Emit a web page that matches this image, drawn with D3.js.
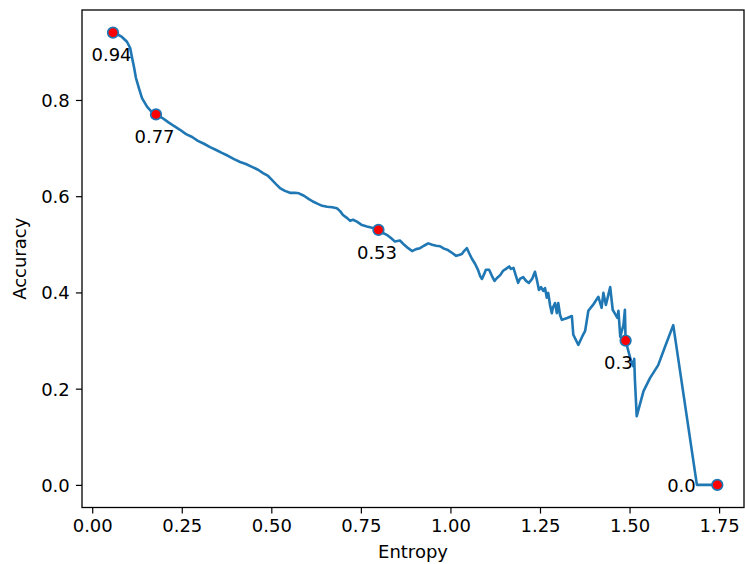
<!DOCTYPE html>
<html>
<head>
<meta charset="utf-8">
<script src="https://cdn.jsdelivr.net/npm/d3@7"></script>
<style>
  html, body { margin: 0; padding: 0; background: #fff; }
  svg text { font-family: "DejaVu Sans", sans-serif; fill: #000; }
</style>
</head>
<body>
<svg id="chart" width="745" height="564"></svg>
<script>
// Accuracy as a function of prediction entropy
const entropy = [
  0.058, 0.072, 0.083, 0.097, 0.106, 0.111, 0.117, 0.122, 0.131, 0.139,
  0.153, 0.164, 0.178, 0.195, 0.212, 0.228, 0.245, 0.262, 0.279, 0.295,
  0.312, 0.329, 0.346, 0.362, 0.379, 0.396, 0.413, 0.429, 0.446, 0.463,
  0.477, 0.491, 0.499, 0.513, 0.524, 0.538, 0.552, 0.566, 0.577, 0.591,
  0.605, 0.616, 0.630, 0.642, 0.656, 0.670, 0.683, 0.692, 0.700, 0.711,
  0.720, 0.728, 0.739, 0.753, 0.767, 0.778, 0.790, 0.799, 0.810, 0.824,
  0.834, 0.845, 0.859, 0.871, 0.882, 0.893, 0.904, 0.915, 0.926, 0.938,
  0.949, 0.960, 0.971, 0.982, 0.993, 1.005, 1.016, 1.024, 1.032, 1.038,
  1.046, 1.052, 1.060, 1.069, 1.077, 1.083, 1.088, 1.094, 1.099, 1.108,
  1.116, 1.123, 1.130, 1.139, 1.147, 1.155, 1.164, 1.169, 1.176, 1.183,
  1.189, 1.194, 1.203, 1.211, 1.219, 1.228, 1.236, 1.242, 1.247, 1.253,
  1.259, 1.264, 1.269, 1.273, 1.278, 1.283, 1.286, 1.292, 1.297, 1.301,
  1.306, 1.311, 1.326, 1.339, 1.343, 1.357, 1.367, 1.376, 1.385, 1.398,
  1.413, 1.422, 1.427, 1.434, 1.446, 1.453, 1.460, 1.466, 1.469, 1.474,
  1.483, 1.487, 1.489, 1.496, 1.504, 1.510, 1.513, 1.515, 1.520, 1.539,
  1.557, 1.580, 1.599, 1.622, 1.688, 1.745
];
const accuracy = [
  0.940, 0.936, 0.931, 0.921, 0.908, 0.889, 0.867, 0.846, 0.823, 0.804,
  0.786, 0.777, 0.770, 0.763, 0.754, 0.746, 0.738, 0.729, 0.723, 0.715,
  0.709, 0.702, 0.696, 0.690, 0.684, 0.677, 0.671, 0.667, 0.661, 0.655,
  0.648, 0.642, 0.636, 0.625, 0.617, 0.611, 0.607, 0.607, 0.606, 0.601,
  0.594, 0.589, 0.584, 0.580, 0.578, 0.577, 0.575, 0.569, 0.561, 0.555,
  0.549, 0.551, 0.547, 0.540, 0.537, 0.535, 0.533, 0.530, 0.524, 0.519,
  0.513, 0.506, 0.508, 0.499, 0.492, 0.486, 0.490, 0.492, 0.497, 0.502,
  0.499, 0.497, 0.496, 0.491, 0.488, 0.482, 0.476, 0.478, 0.480, 0.486,
  0.492, 0.482, 0.470, 0.459, 0.447, 0.434, 0.428, 0.438, 0.447, 0.447,
  0.434, 0.424, 0.430, 0.436, 0.445, 0.449, 0.454, 0.449, 0.451, 0.434,
  0.420, 0.428, 0.432, 0.424, 0.420, 0.428, 0.443, 0.424, 0.405, 0.411,
  0.403, 0.409, 0.389, 0.399, 0.374, 0.357, 0.368, 0.378, 0.357, 0.378,
  0.353, 0.343, 0.347, 0.351, 0.312, 0.291, 0.307, 0.320, 0.362, 0.374,
  0.391, 0.368, 0.399, 0.374, 0.411, 0.364, 0.355, 0.347, 0.362, 0.308,
  0.332, 0.364, 0.300, 0.280, 0.258, 0.247, 0.262, 0.218, 0.143, 0.195,
  0.222, 0.249, 0.287, 0.332, 0.000, 0.000
];

// Highlighted operating points
const markEntropy  = [0.058, 0.178, 0.799, 1.489, 1.745];
const markAccuracy = [0.94, 0.77, 0.53, 0.3, 0.0];

// Tick values
const xTicks = [0, 0.25, 0.5, 0.75, 1.0, 1.25, 1.5, 1.75];
const yTicks = [0, 0.2, 0.4, 0.6, 0.8];

const blue = "#1f77b4";
const fontSize = 18;
const tickLen = 6.1;
const tickPad = 6.1;

const plot = { left: 82, right: 744, top: 10, bottom: 507.5 };

const x = d3.scaleLinear().domain([-0.0285, 1.8195]).range([plot.left, plot.right]);
const y = d3.scaleLinear().domain([-0.047, 0.987]).range([plot.bottom, plot.top]);

const svg = d3.select("#chart");
svg.append("rect").attr("width", 745).attr("height", 564).attr("fill", "#fff");

// x axis
const xAxis = d3.axisBottom(x)
  .tickValues(xTicks)
  .tickFormat(d3.format(".2f"))
  .tickSizeInner(tickLen)
  .tickSizeOuter(0)
  .tickPadding(tickPad);
const gx = svg.append("g").attr("transform", `translate(0,${plot.bottom})`).call(xAxis);

// y axis
const yAxis = d3.axisLeft(y)
  .tickValues(yTicks)
  .tickFormat(d3.format(".1f"))
  .tickSizeInner(tickLen)
  .tickSizeOuter(0)
  .tickPadding(tickPad);
const gy = svg.append("g").attr("transform", `translate(${plot.left},0)`).call(yAxis);

[gx, gy].forEach(g => {
  g.select(".domain").remove();
  g.selectAll(".tick line").attr("stroke", "#000").attr("stroke-width", 1.2);
  g.selectAll(".tick text")
    .style("font-family", '"DejaVu Sans", sans-serif')
    .style("font-size", fontSize + "px")
    .attr("fill", "#000");
});
gx.selectAll(".tick text").attr("dy", "0.71em");
gy.selectAll(".tick text").attr("dy", "0.36em");

// frame
svg.append("rect")
  .attr("x", plot.left).attr("y", plot.top)
  .attr("width", plot.right - plot.left).attr("height", plot.bottom - plot.top)
  .attr("fill", "none").attr("stroke", "#000").attr("stroke-width", 1.3);

// axis titles
svg.append("text")
  .attr("x", (plot.left + plot.right) / 2).attr("y", 558)
  .attr("text-anchor", "middle")
  .style("font-size", fontSize + "px")
  .text("Entropy");

svg.append("text")
  .attr("transform", `translate(26,${(plot.top + plot.bottom) / 2}) rotate(-90)`)
  .attr("text-anchor", "middle")
  .style("font-size", fontSize + "px")
  .text("Accuracy");

// curve
const points = entropy.map((e, i) => [e, accuracy[i]]);
const line = d3.line().x(d => x(d[0])).y(d => y(d[1]));
svg.append("path")
  .datum(points)
  .attr("d", line)
  .attr("fill", "none")
  .attr("stroke", blue)
  .attr("stroke-width", 2.6)
  .attr("stroke-linejoin", "round")
  .attr("stroke-linecap", "square");

// highlighted points
const marks = markEntropy.map((e, i) => ({ e, a: markAccuracy[i] }));
svg.append("g").selectAll("circle")
  .data(marks)
  .join("circle")
  .attr("cx", d => x(d.e))
  .attr("cy", d => y(d.a))
  .attr("r", 5.3)
  .attr("fill", "red")
  .attr("stroke", blue)
  .attr("stroke-width", 1.7);

// value labels: placed below-left of each point, or to the left if that would fall off the axes
const fmt = v => { const s = String(v); return s.includes(".") ? s : s + ".0"; };
svg.append("g").selectAll("text")
  .data(marks)
  .join("text")
  .attr("x", d => (d.a - 0.06 < y.domain()[0]) ? x(d.e - 0.14) : x(d.e - 0.06))
  .attr("y", d => (d.a - 0.06 < y.domain()[0]) ? y(d.a - 0.014) : y(d.a - 0.06))
  .style("font-size", fontSize + "px")
  .text(d => fmt(d.a));
</script>
</body>
</html>
